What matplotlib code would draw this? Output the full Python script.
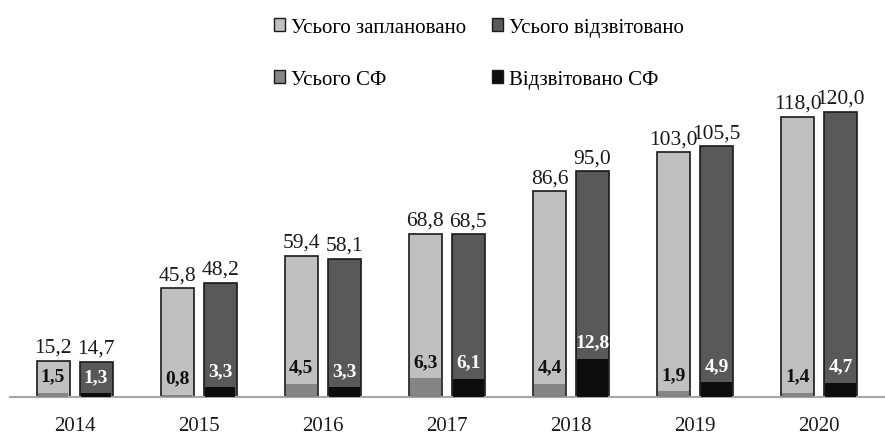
import matplotlib
matplotlib.use("Agg")
import matplotlib.pyplot as plt
import numpy as np
from matplotlib.patches import Patch

years = ["2014", "2015", "2016", "2017", "2018", "2019", "2020"]
planned = [15.2, 45.8, 59.4, 68.8, 86.6, 103.0, 118.0]
reported = [14.7, 48.2, 58.1, 68.5, 95.0, 105.5, 120.0]
sf_total = [1.5, 0.8, 4.5, 6.3, 4.4, 1.9, 1.4]
sf_reported = [1.3, 3.3, 3.3, 6.1, 12.8, 4.9, 4.7]

labels_legend = ["Усього заплановано", "Усього відзвітовано", "Усього СФ", "Відзвітовано СФ"]

c_plan = "#c0c0c0"
c_rep = "#595959"
c_sft = "#858585"
c_sfr = "#0d0d0d"

plt.rcParams["font.family"] = ["Liberation Serif", "DejaVu Serif"]

def fmt(v):
    return f"{v:.1f}".replace(".", ",")

fig = plt.figure(figsize=(8.85, 4.35), dpi=100)
ax = fig.add_axes([10 / 885, 37 / 435, 875 / 885, 338 / 435])
ax2 = ax.twinx()

x = np.arange(len(years))
off = 0.173
w = 0.266

ax.bar(x - off, planned, w, color=c_plan, edgecolor="#1a1a1a", linewidth=1.2, zorder=2)
ax.bar(x + off, reported, w, color=c_rep, edgecolor="#1a1a1a", linewidth=1.2, zorder=2)
ax2.bar(x - off, sf_total, w - 0.02, color=c_sft, linewidth=0, zorder=3)
ax2.bar(x + off, sf_reported, w - 0.02, color=c_sfr, linewidth=0, zorder=3)

ax.set_xlim(-0.52, 6.53)
ax.set_ylim(0, 338 / 2.375)
ax2.set_ylim(0, 338 / 3.0)

for i in range(len(years)):
    ax.annotate(fmt(planned[i]), (x[i] - off, planned[i]), xytext=(0, 3),
                textcoords="offset points", ha="center", va="bottom", fontsize=15.5, color="#1a1a1a")
    ax.annotate(fmt(reported[i]), (x[i] + off, reported[i]), xytext=(0, 3),
                textcoords="offset points", ha="center", va="bottom", fontsize=15.5, color="#1a1a1a")
    ax2.annotate(fmt(sf_total[i]), (x[i] - off, sf_total[i]), xytext=(0, 6),
                 textcoords="offset points", ha="center", va="bottom", fontsize=14,
                 fontweight="bold", color="#111111", zorder=5)
    ax2.annotate(fmt(sf_reported[i]), (x[i] + off, sf_reported[i]), xytext=(0, 6),
                 textcoords="offset points", ha="center", va="bottom", fontsize=14,
                 fontweight="bold", color="white", zorder=5)

for a in (ax, ax2):
    for s in ("left", "right", "top"):
        a.spines[s].set_visible(False)
    a.set_yticks([])
ax2.spines["bottom"].set_visible(False)
ax.spines["bottom"].set_color("#a6a6a6")
ax.spines["bottom"].set_linewidth(1.5)
ax.set_xticks(x)
ax.set_xticklabels(years, fontsize=15)
ax.tick_params(axis="x", length=0, pad=14, colors="#1a1a1a")

handles = [Patch(facecolor=c_plan, edgecolor="#1a1a1a"),
           Patch(facecolor=c_sft, edgecolor="#1a1a1a"),
           Patch(facecolor=c_rep, edgecolor="#1a1a1a"),
           Patch(facecolor=c_sfr, edgecolor="#1a1a1a")]
lbls = [labels_legend[0], labels_legend[2], labels_legend[1], labels_legend[3]]
fig.legend(handles, lbls, ncol=2, loc="upper left", bbox_to_anchor=(255 / 885, 1.0),
           frameon=False, fontsize=15, handlelength=0.55, handleheight=0.55,
           handletextpad=0.3, columnspacing=1.2, labelspacing=1.6)

fig.savefig("out.png", dpi=100)
